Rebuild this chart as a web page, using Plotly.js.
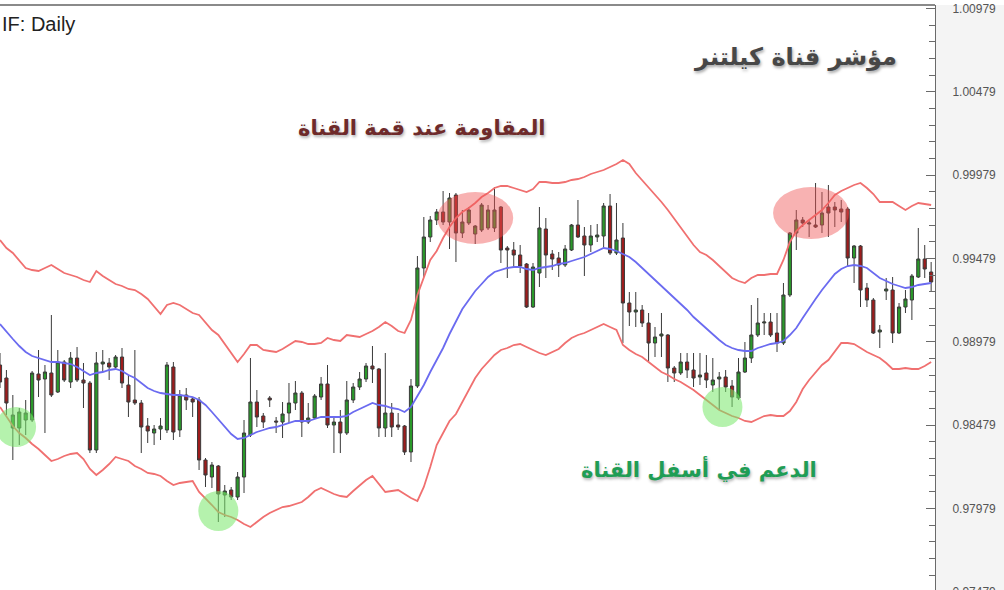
<!DOCTYPE html>
<html>
<head>
<meta charset="utf-8">
<script src="https://cdn.plot.ly/plotly-3.0.1.min.js"></script>
<style>
html,body{margin:0;padding:0;overflow:hidden;background:#fff;}
#chart{width:1004px;height:600px;}
</style>
</head>
<body>
<div id="chart"></div>
<script>
// ---- Daily candles (price) ----
const opens = [0.98839,0.98761,0.98461,0.98461,0.98509,0.98509,0.98785,0.98755,0.98791,0.98677,
0.98857,0.98737,0.98881,0.98749,0.98731,0.98329,0.98845,0.98851,0.98827,0.98887,
0.98719,0.98629,0.98611,0.98473,0.98431,0.98455,0.98449,0.98827,0.98449,0.98659,
0.98635,0.98629,0.98269,0.98167,0.98233,0.98059,0.98089,0.98047,0.98167,0.98419,
0.98617,0.98533,0.98641,0.98503,0.98497,0.98551,0.98611,0.98671,0.98497,0.98521,
0.98647,0.98725,0.98479,0.98497,0.98431,0.98629,0.98707,0.98755,0.98833,0.98815,
0.98461,0.98551,0.98479,0.98473,0.98317,0.98713,0.99421,0.99607,0.99709,0.99757,
0.99697,0.99859,0.99631,0.99691,0.99625,0.99649,0.99661,0.99661,0.99787,0.99541,
0.99529,0.99499,0.99445,0.99187,0.99391,0.99655,0.99505,0.99481,0.99439,0.99529,
0.99679,0.99613,0.99559,0.99607,0.99613,0.99793,0.99511,0.99601,0.99211,0.99157,
0.99169,0.99091,0.98971,0.99013,0.99019,0.98821,0.98791,0.98857,0.98809,0.98767,
0.98791,0.98719,0.98755,0.98767,0.98713,0.98641,0.98797,0.98881,0.99019,0.99091,
0.99097,0.99031,0.98971,0.99259,0.99631,0.99709,0.99685,0.99679,0.99679,0.99787,
0.99787,0.99775,0.99775,0.99481,0.99553,0.99301,0.99229,0.99037,0.99283,0.99289,
0.99031,0.99187,0.99229,0.99367,0.99475,0.99397];
const highs = [0.98911,0.98809,0.98659,0.98581,0.98629,0.98803,0.98929,0.98839,0.99139,0.98929,
0.98869,0.98917,0.98947,0.98851,0.98743,0.98917,0.98929,0.98881,0.98899,0.98941,
0.98779,0.98929,0.98629,0.98521,0.98479,0.98521,0.98857,0.98857,0.98689,0.98701,
0.98647,0.98647,0.98281,0.98257,0.98239,0.98119,0.98107,0.98197,0.98509,0.98881,
0.98689,0.98551,0.98653,0.98527,0.98617,0.98731,0.98743,0.98683,0.98611,0.98665,
0.98767,0.98839,0.98533,0.98569,0.98743,0.98731,0.98797,0.98851,0.98953,0.98821,
0.98911,0.98611,0.98551,0.98479,0.98755,0.99493,0.99727,0.99733,0.99775,0.99883,
0.99871,0.99871,0.99769,0.99787,0.99679,0.99811,0.99799,0.99907,0.99793,0.99553,
0.99577,0.99559,0.99451,0.99451,0.99787,0.99721,0.99529,0.99517,0.99559,0.99685,
0.99829,0.99667,0.99679,0.99685,0.99811,0.99865,0.99811,0.99691,0.99277,0.99277,
0.99199,0.99151,0.99067,0.99151,0.99025,0.98833,0.98911,0.98911,0.98911,0.98911,
0.98899,0.98881,0.98797,0.98809,0.98749,0.98881,0.98977,0.99199,0.99241,0.99151,
0.99151,0.99151,0.99331,0.99637,0.99769,0.99727,0.99709,0.99931,0.99877,0.99919,
0.99817,0.99829,0.99787,0.99559,0.99559,0.99331,0.99241,0.99079,0.99361,0.99367,
0.99211,0.99289,0.99385,0.99661,0.99559,0.99457];
const lows = [0.98701,0.98539,0.98269,0.98359,0.98419,0.98497,0.98647,0.98431,0.98647,0.98671,
0.98737,0.98701,0.98737,0.98581,0.98311,0.98311,0.98797,0.98749,0.98815,0.98701,
0.98527,0.98599,0.98311,0.98371,0.98359,0.98389,0.98431,0.98389,0.98407,0.98569,
0.98527,0.98209,0.98107,0.98101,0.97897,0.97927,0.98029,0.98029,0.98071,0.98407,
0.98467,0.98461,0.98587,0.98431,0.98401,0.98491,0.98569,0.98407,0.98485,0.98515,
0.98629,0.98461,0.98311,0.98311,0.98419,0.98611,0.98689,0.98737,0.98731,0.98407,
0.98407,0.98407,0.98449,0.98299,0.98257,0.98701,0.99367,0.99577,0.99679,0.99679,
0.99535,0.99457,0.99601,0.99679,0.99565,0.99637,0.99649,0.99637,0.99451,0.99361,
0.99427,0.99391,0.99181,0.99181,0.99307,0.99361,0.99409,0.99367,0.99427,0.99523,
0.99601,0.99373,0.99517,0.99577,0.99541,0.99499,0.99499,0.98971,0.99073,0.99067,
0.99067,0.98857,0.98887,0.98887,0.98737,0.98737,0.98779,0.98761,0.98707,0.98719,
0.98701,0.98677,0.98569,0.98677,0.98587,0.98629,0.98791,0.98851,0.99007,0.99019,
0.99007,0.98917,0.98959,0.99247,0.99529,0.99667,0.99607,0.99661,0.99631,0.99607,
0.99667,0.99697,0.99427,0.99331,0.99187,0.99187,0.99025,0.98941,0.99229,0.98971,
0.99025,0.99151,0.99109,0.99361,0.99361,0.99277];
const closes = [0.98737,0.98611,0.98539,0.98557,0.98551,0.98791,0.98749,0.98797,0.98659,0.98857,
0.98749,0.98881,0.98749,0.98731,0.98329,0.98851,0.98857,0.98827,0.98887,0.98731,
0.98617,0.98611,0.98467,0.98443,0.98455,0.98473,0.98839,0.98437,0.98659,0.98629,
0.98617,0.98269,0.98179,0.98239,0.98065,0.98083,0.98047,0.98167,0.98431,0.98617,
0.98527,0.98497,0.98629,0.98497,0.98545,0.98611,0.98671,0.98497,0.98521,0.98653,
0.98725,0.98479,0.98497,0.98431,0.98629,0.98707,0.98755,0.98833,0.98815,0.98461,
0.98551,0.98467,0.98467,0.98317,0.98713,0.99421,0.99607,0.99709,0.99757,0.99697,
0.99841,0.99631,0.99697,0.99769,0.99673,0.99799,0.99769,0.99769,0.99529,0.99529,
0.99499,0.99433,0.99187,0.99427,0.99661,0.99499,0.99475,0.99439,0.99535,0.99679,
0.99607,0.99559,0.99613,0.99619,0.99793,0.99511,0.99589,0.99211,0.99157,0.99169,
0.99091,0.98971,0.99007,0.99025,0.98821,0.98791,0.98857,0.98809,0.98761,0.98779,
0.98749,0.98749,0.98767,0.98707,0.98647,0.98797,0.98881,0.99019,0.99091,0.99097,
0.99019,0.98971,0.99259,0.99631,0.99709,0.99691,0.99691,0.99667,0.99751,0.99751,
0.99769,0.99757,0.99481,0.99553,0.99289,0.99229,0.99031,0.99049,0.99295,0.99031,
0.99187,0.99235,0.99373,0.99475,0.99415,0.99337];

// ---- Keltner channel ----
const upperBand = [0.99589,0.99541,0.99511,0.99463,0.99421,0.99409,0.99403,0.99421,0.99439,0.99415,
0.99391,0.99379,0.99367,0.99349,0.99337,0.99403,0.99373,0.99349,0.99325,0.99313,
0.99295,0.99289,0.99265,0.99235,0.99187,0.99145,0.99199,0.99211,0.99199,0.99175,
0.99151,0.99139,0.99097,0.99049,0.99019,0.98965,0.98905,0.98857,0.98905,0.98959,
0.98959,0.98929,0.98923,0.98917,0.98935,0.98959,0.98983,0.98977,0.98965,0.98965,
0.98971,0.99001,0.98989,0.98983,0.99019,0.99013,0.99007,0.99025,0.99043,0.99067,
0.99097,0.99073,0.99043,0.99031,0.99109,0.99259,0.99367,0.99469,0.99523,0.99601,
0.99667,0.99721,0.99757,0.99781,0.99811,0.99847,0.99871,0.99901,0.99913,0.99913,
0.99901,0.99889,0.99877,0.99895,0.99937,0.99937,0.99931,0.99931,0.99937,0.99949,
0.99955,0.99967,0.99985,0.99997,1.00009,1.00027,1.00045,1.00069,1.00045,0.99991,
0.99949,0.99907,0.99865,0.99817,0.99769,0.99715,0.99661,0.99607,0.99559,0.99517,
0.99499,0.99469,0.99433,0.99397,0.99361,0.99343,0.99331,0.99361,0.99379,0.99379,
0.99385,0.99385,0.99469,0.99577,0.99643,0.99679,0.99709,0.99739,0.99769,0.99811,
0.99859,0.99883,0.99901,0.99919,0.99931,0.99901,0.99865,0.99817,0.99817,0.99817,
0.99793,0.99769,0.99793,0.99811,0.99805,0.99799];
const middleLine = [0.99085,0.99037,0.98995,0.98953,0.98917,0.98893,0.98881,0.98869,0.98857,0.98857,
0.98851,0.98845,0.98827,0.98803,0.98779,0.98791,0.98797,0.98809,0.98815,0.98803,
0.98779,0.98761,0.98731,0.98701,0.98683,0.98671,0.98665,0.98659,0.98659,0.98653,
0.98647,0.98629,0.98599,0.98557,0.98515,0.98467,0.98425,0.98395,0.98401,0.98419,
0.98437,0.98449,0.98461,0.98467,0.98479,0.98491,0.98503,0.98503,0.98503,0.98515,
0.98527,0.98527,0.98527,0.98527,0.98533,0.98557,0.98575,0.98593,0.98611,0.98599,
0.98593,0.98581,0.98575,0.98557,0.98587,0.98653,0.98719,0.98797,0.98869,0.98941,
0.99025,0.99103,0.99175,0.99229,0.99283,0.99325,0.99367,0.99397,0.99409,0.99421,
0.99427,0.99427,0.99415,0.99409,0.99421,0.99427,0.99433,0.99445,0.99451,0.99463,
0.99475,0.99487,0.99505,0.99523,0.99541,0.99535,0.99523,0.99505,0.99487,0.99457,
0.99421,0.99391,0.99355,0.99319,0.99283,0.99247,0.99205,0.99169,0.99127,0.99091,
0.99055,0.99019,0.98989,0.98959,0.98941,0.98929,0.98923,0.98923,0.98941,0.98953,
0.98965,0.98971,0.98983,0.99019,0.99061,0.99121,0.99181,0.99235,0.99289,0.99337,
0.99385,0.99415,0.99433,0.99439,0.99433,0.99421,0.99391,0.99361,0.99343,0.99325,
0.99313,0.99301,0.99307,0.99319,0.99325,0.99331];
const lowerBand = [0.98587,0.98527,0.98473,0.98431,0.98401,0.98365,0.98335,0.98299,0.98263,0.98275,
0.98293,0.98305,0.98311,0.98275,0.98215,0.98179,0.98209,0.98245,0.98287,0.98275,
0.98263,0.98233,0.98215,0.98191,0.98185,0.98173,0.98143,0.98119,0.98131,0.98137,
0.98143,0.98077,0.98041,0.97999,0.97957,0.97939,0.97927,0.97909,0.97885,0.97867,
0.97897,0.97927,0.97951,0.97969,0.97987,0.97993,0.98005,0.98017,0.98047,0.98083,
0.98101,0.98083,0.98065,0.98053,0.98047,0.98083,0.98119,0.98149,0.98173,0.98125,
0.98077,0.98083,0.98089,0.98065,0.98041,0.98023,0.98107,0.98227,0.98359,0.98431,
0.98503,0.98545,0.98617,0.98689,0.98761,0.98815,0.98857,0.98899,0.98929,0.98941,
0.98959,0.98965,0.98947,0.98929,0.98911,0.98899,0.98917,0.98935,0.98971,0.99001,
0.99019,0.99031,0.99049,0.99067,0.99085,0.99067,0.99049,0.98959,0.98929,0.98905,
0.98887,0.98857,0.98827,0.98797,0.98779,0.98755,0.98737,0.98713,0.98689,0.98659,
0.98629,0.98599,0.98569,0.98551,0.98533,0.98521,0.98503,0.98497,0.98515,0.98533,
0.98539,0.98533,0.98533,0.98563,0.98617,0.98695,0.98749,0.98797,0.98839,0.98869,
0.98923,0.98971,0.98971,0.98965,0.98941,0.98917,0.98899,0.98881,0.98851,0.98815,
0.98815,0.98821,0.98815,0.98815,0.98833,0.98857];

// ---- Axis tick labels ----
const tickValues = [0.97479,0.97979,0.98479,0.98979,0.99479,0.99979,1.00479,1.00979];
const tickLabels = ["0.97479","0.97979","0.98479","0.98979","0.99479","0.99979","1.00479","1.00979"];

// ---- Highlighted zones (candle index, price) ----
const supportIdx = [2.5, 34, 112.5];
const supportPrice = [0.98467, 0.97963, 0.98587];
const resistIdx = [74, 126.3];
const resistPrice = [0.99721, 0.99751];

// ---- Texts ----
const chartLabel = "IF: Daily";
const titleText = "مؤشر قناة كيلتنر";
const resistText = "المقاومة عند قمة القناة";
const supportText = "الدعم في أسفل القناة";

const idx = opens.map((_, i) => i);
const minorVals = [];
for (let k = 0; k <= 40; k++) minorVals.push(+(0.97279 + k * 0.001).toFixed(5));

const lineTrace = (y, color) => ({
  type: 'scatter', mode: 'lines', x: idx, y: y, hoverinfo: 'skip',
  line: {color: color, width: 1.8}, showlegend: false
});

const traces = [
  lineTrace(upperBand, '#f07070'),
  lineTrace(lowerBand, '#f07070'),
  lineTrace(middleLine, '#6b6bf0'),
  {
    type: 'candlestick', x: idx, open: opens, high: highs, low: lows, close: closes,
    hoverinfo: 'skip', showlegend: false, whiskerwidth: 0,
    increasing: {line: {color: '#3a3a3a', width: 1}, fillcolor: '#2a992a'},
    decreasing: {line: {color: '#3a3a3a', width: 1}, fillcolor: '#9e1c1c'}
  }
];

const shapes = [];
supportIdx.forEach((xi, k) => shapes.push({
  type: 'circle', xref: 'x', yref: 'y', xsizemode: 'pixel', ysizemode: 'pixel',
  xanchor: xi, yanchor: supportPrice[k], x0: -20, x1: 20, y0: -20, y1: 20,
  fillcolor: 'rgba(120,232,105,0.55)', line: {width: 0}, layer: 'above'
}));
resistIdx.forEach((xi, k) => shapes.push({
  type: 'circle', xref: 'x', yref: 'y', xsizemode: 'pixel', ysizemode: 'pixel',
  xanchor: xi, yanchor: resistPrice[k], x0: -38, x1: 38, y0: -26, y1: 26,
  fillcolor: 'rgba(240,85,85,0.45)', line: {width: 0}, layer: 'above'
}));
// right price-scale panel
shapes.push({type: 'rect', xref: 'paper', yref: 'paper', x0: 1, x1: 1.08, y0: -0.05, y1: 1,
  fillcolor: '#f4f4f4', line: {width: 0}, layer: 'below'});
// top border
shapes.push({type: 'line', xref: 'paper', yref: 'paper', x0: 0, x1: 1, y0: 1, y1: 1,
  line: {color: '#8a8a8a', width: 2}});

const arabicFont = '"DejaVu Sans", "Noto Sans", sans-serif';
const annotations = [
  {text: chartLabel, xref: 'paper', yref: 'paper', x: 0, y: 0.968, xanchor: 'left', yanchor: 'middle',
   showarrow: false, font: {family: '"Liberation Sans", Arial, sans-serif', size: 20, color: '#222'}},
  {text: titleText, xref: 'paper', yref: 'paper', x: 0.8513, y: 0.9126, xanchor: 'center', yanchor: 'middle',
   showarrow: false, font: {family: arabicFont, size: 24, color: '#474747', weight: 'bold',
   shadow: '1px 2px 3px rgba(0,0,0,0.35)'}},
  {text: resistText, xref: 'paper', yref: 'paper', x: 0.4513, y: 0.7933, xanchor: 'center', yanchor: 'middle',
   showarrow: false, font: {family: arabicFont, size: 21, color: '#6e2a2a', weight: 'bold',
   shadow: '1px 2px 3px rgba(0,0,0,0.3)'}},
  {text: supportText, xref: 'paper', yref: 'paper', x: 0.7476, y: 0.2218, xanchor: 'center', yanchor: 'middle',
   showarrow: false, font: {family: arabicFont, size: 21, color: '#1f9d55', weight: 'bold',
   shadow: '1px 2px 3px rgba(0,0,0,0.3)'}}
];

const layout = {
  width: 1004, height: 600,
  margin: {l: 0, r: 69, t: 5, b: 0, pad: 0},
  paper_bgcolor: '#ffffff', plot_bgcolor: '#ffffff',
  showlegend: false, hovermode: false, dragmode: false,
  boxgap: 0.3,
  xaxis: {range: [0, 145.6], visible: false, rangeslider: {visible: false}, fixedrange: true},
  yaxis: {
    side: 'right', range: [0.97429, 1.00999], fixedrange: true,
    tickmode: 'array', tickvals: tickValues, ticktext: tickLabels,
    showgrid: false, zeroline: false,
    showline: true, linecolor: '#6a6a6a', linewidth: 1,
    ticks: 'inside', ticklen: 9, tickcolor: '#6a6a6a', tickwidth: 1,
    ticklabelstandoff: 14,
    tickfont: {family: '"Liberation Sans", Arial, sans-serif', size: 12, color: '#555'},
    minor: {tickmode: 'array', tickvals: minorVals, ticks: 'inside', ticklen: 6, tickcolor: '#6a6a6a', showgrid: false}
  },
  shapes: shapes,
  annotations: annotations
};

Plotly.newPlot('chart', traces, layout, {staticPlot: true, displayModeBar: false});
</script>
</body>
</html>
